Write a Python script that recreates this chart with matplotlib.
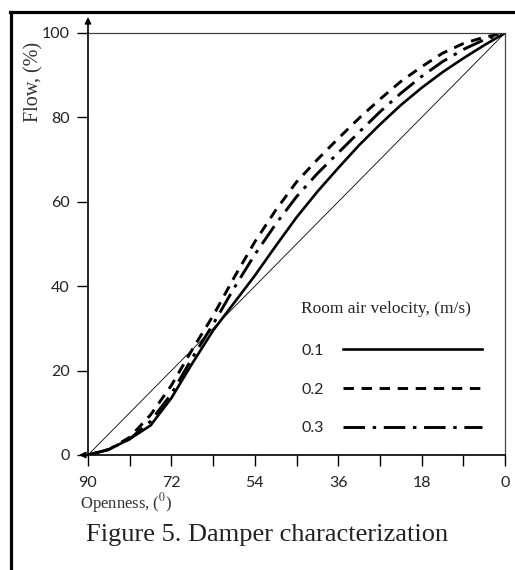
import matplotlib
matplotlib.use("Agg")
import matplotlib.pyplot as plt
from matplotlib.lines import Line2D
from matplotlib.font_manager import FontProperties

plt.rcParams['lines.scale_dashes'] = False
plt.rcParams['mathtext.fontset'] = 'stix'

# Data
openness = [90, 85.5, 81, 76.5, 72, 67.5, 63, 58.5, 54, 49.5, 45, 40.5, 36,
            31.5, 27, 22.5, 18, 13.5, 9, 4.5, 0]
flow_01 = [0, 1.3, 3.8, 7.0, 13.5, 21.7, 29.5, 36, 42.5, 49.5, 56.3, 62.4, 68,
           73.4, 78.3, 82.9, 87, 90.7, 94, 97.1, 100]
flow_02 = [0, 1.3, 4.2, 9.5, 16.5, 25, 33, 42, 50.5, 58, 64.7, 70, 75,
           79.8, 84.3, 88.5, 92, 95.2, 97.5, 99, 100]
flow_03 = [0, 1.3, 3.8, 8.0, 14.5, 23, 31, 39.5, 47.5, 54.7, 61.2, 66.7, 71.6,
           76.5, 81.3, 85.7, 89.7, 93.2, 96.1, 98.4, 100]
linear_x = [90, 0]
linear_y = [0, 100]
series_labels = ["0.1", "0.2", "0.3"]
x_ticks = [90, 72, 54, 36, 18, 0]
x_minor = [81, 63, 45, 27, 9]
y_ticks = [0, 20, 40, 60, 80, 100]

W, H = 515, 570
fig = plt.figure(figsize=(W / 100, H / 100), dpi=100)
ax = fig.add_axes([88 / W, 1 - 455 / H, 417 / W, 422 / H])

sans = 'Lato'
serif = 'Liberation Serif'

ax.plot(linear_x, linear_y, color='black', lw=0.6)
l1, = ax.plot(openness, flow_01, color='black', lw=1.9, solid_joinstyle='round')
l2, = ax.plot(openness, flow_02, color='black', lw=2.1)
l2.set_dashes((7.5, 5.5))
l3, = ax.plot(openness, flow_03, color='black', lw=2.1)
l3.set_dashes((15.5, 5.5, 2.5, 5.5))

ax.set_xlim(90, 0)
ax.set_ylim(0, 100)
ax.set_xticks(x_ticks)
ax.set_xticks(x_minor, minor=True)
ax.set_yticks(y_ticks)
ax.tick_params(axis='both', which='both', direction='out', length=8, width=1.0,
               color='black', labelsize=11.5)
ax.tick_params(axis='x', pad=7)
ax.tick_params(axis='y', pad=5)
for lab in ax.get_xticklabels() + ax.get_yticklabels():
    lab.set_fontfamily(sans)
    lab.set_color('#222222')

for s in ['left', 'bottom']:
    ax.spines[s].set_linewidth(1.2)
    ax.spines[s].set_color('black')
for s in ['top', 'right']:
    ax.spines[s].set_linewidth(0.9)
    ax.spines[s].set_color('#444444')

# axis arrows
ax.annotate('', xy=(0, 1 + 16 / 422), xytext=(0, 1), xycoords='axes fraction',
            arrowprops=dict(arrowstyle='-|>', color='black', lw=1.2,
                            mutation_scale=9, shrinkA=0, shrinkB=0),
            annotation_clip=False)
ax.annotate('', xy=(-9 / 417, 0), xytext=(0, 0), xycoords='axes fraction',
            arrowprops=dict(arrowstyle='-|>', color='black', lw=1.2,
                            mutation_scale=9, shrinkA=0, shrinkB=0),
            annotation_clip=False)

ax.set_ylabel('Flow, (%)', fontfamily=serif, fontsize=14.5, color='#333333')
ax.yaxis.set_label_coords(-45 / 417, 1 - 49 / 422)
ax.text(-8 / 417, -48 / 422, 'Openness, ($^0$)', transform=ax.transAxes,
        fontfamily=serif, fontsize=12, color='#333333', ha='left', va='center')

leg = ax.legend([l1, l2, l3], series_labels, loc='upper left',
                bbox_to_anchor=(213 / 417, 1 - 268 / 422), frameon=False,
                markerfirst=False, handlelength=8.7, handletextpad=1.2,
                labelspacing=1.55, borderpad=0, borderaxespad=0,
                title='Room air velocity, (m/s)',
                title_fontproperties=FontProperties(family=serif, size=12.5),
                prop=FontProperties(family=sans, size=11.5),
                alignment='left')
leg.get_title().set_color('#222222')
for t in leg.get_texts():
    t.set_color('#222222')
leg._legend_box.sep = 19

fig.text(267 / W, 1 - 541 / H, 'Figure 5. Damper characterization',
         fontfamily=serif, fontsize=19, color='#222222', ha='center', va='baseline')

# outer frame fragments
fig.add_artist(Line2D([10 / W, 1], [1 - 12 / H, 1 - 12 / H], color='black', lw=2.3,
                      transform=fig.transFigure))
fig.add_artist(Line2D([11 / W, 11 / W], [0, 1 - 12 / H], color='black', lw=2.3,
                      transform=fig.transFigure))

fig.savefig('out.png', dpi=100)
